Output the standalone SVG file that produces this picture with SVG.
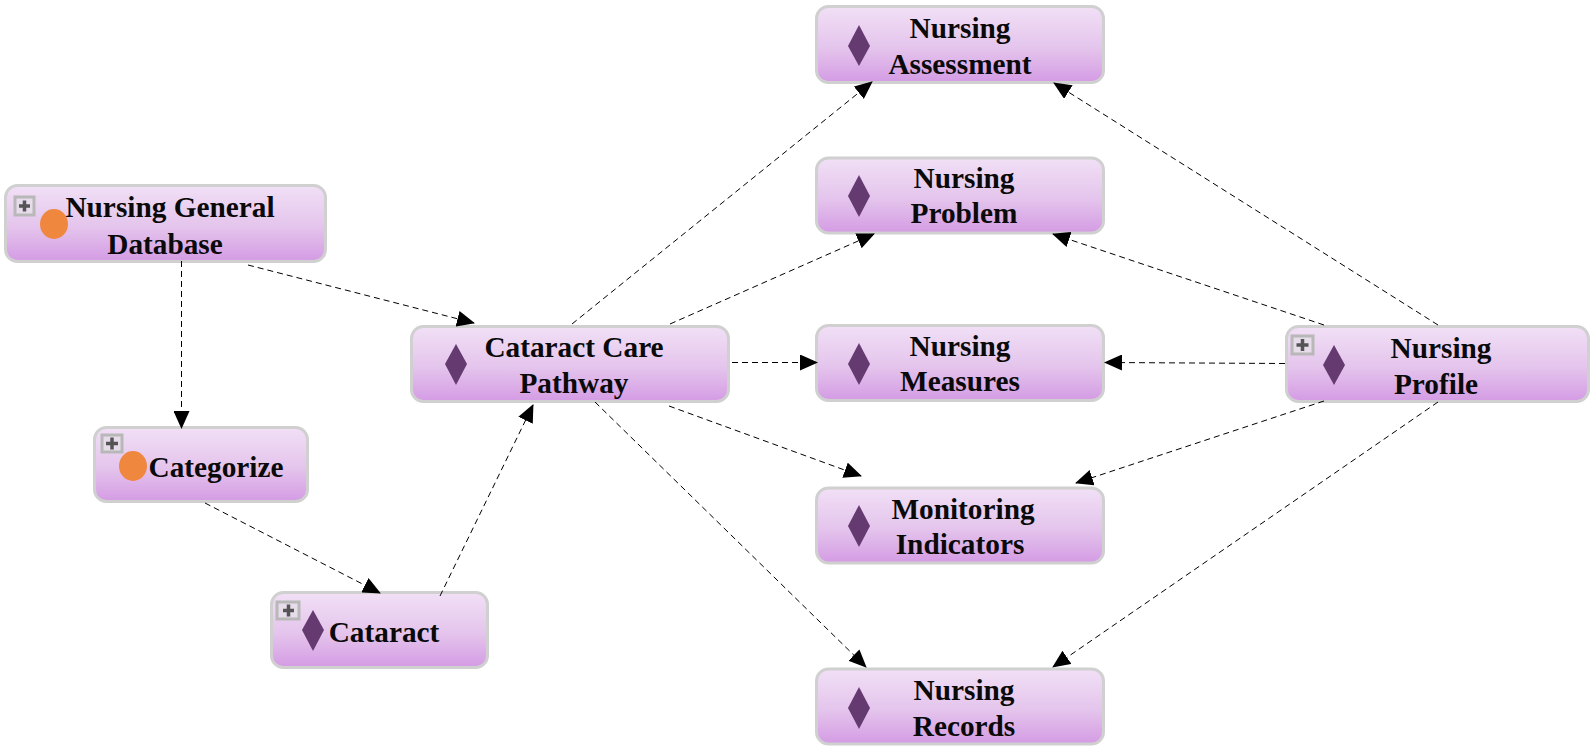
<svg xmlns="http://www.w3.org/2000/svg" width="1595" height="749" viewBox="0 0 1595 749">
<style>
.b{fill:url(#g);stroke:#d0d0d0;stroke-width:3}
.t{font-family:"Liberation Serif","Times New Roman",serif;font-weight:bold;font-size:29.3px;fill:#0a0a0a;text-anchor:middle}
.d{fill:#643a70}
.o{fill:#f0873f}
.p{fill:#e6dcea;stroke:#b8b8b8;stroke-width:3}
.m{stroke:#555;stroke-width:3.500;fill:none}
.c{fill:none;stroke:#000;stroke-width:1;stroke-dasharray:6 4;marker-end:url(#a)}
</style>
<defs>
<linearGradient id="g" x1="0" y1="0" x2="0" y2="1"><stop offset="0" stop-color="#f1e0f6"/><stop offset=".55" stop-color="#e4c4ec"/><stop offset="1" stop-color="#d49be4"/></linearGradient>
<marker id="a" markerUnits="userSpaceOnUse" markerWidth="18" markerHeight="16" refX="17" refY="8" orient="auto"><path d="M0 0L18 8L0 16z" fill="#000"/></marker>
</defs>
<g id="n1"><rect class="b" x="5.500" y="185.500" width="320" height="76" rx="12"/><rect class="p" x="15" y="197" width="19" height="18"/><path class="m" d="M19 206H30M24.500 200.500V211.500"/><ellipse class="o" cx="54" cy="224" rx="14" ry="15"/><text class="t" x="170" y="217">Nursing General</text><text class="t" x="165" y="254">Database</text></g>
<g id="n2"><rect class="b" x="94.500" y="427.500" width="213" height="74" rx="12"/><rect class="p" x="102" y="435" width="20" height="17"/><path class="m" d="M106 443.500H118M112 437.500V449.500"/><ellipse class="o" cx="133" cy="466" rx="14" ry="15"/><text class="t" x="216" y="477">Categorize</text></g>
<g id="n3"><rect class="b" x="271.500" y="592.500" width="216" height="75" rx="12"/><rect class="p" x="277" y="602" width="22" height="17"/><path class="m" d="M283 610.500H294M288.500 604.500V616.500"/><path class="d" d="M313 610L324 630L313 651L302 630z"/><text class="t" x="384" y="642">Cataract</text></g>
<g id="n4"><rect class="b" x="411.500" y="326.500" width="317" height="75" rx="12"/><path class="d" d="M456 344L467 364L456 385L445 364z"/><text class="t" x="574" y="357">Cataract Care</text><text class="t" x="574" y="393">Pathway</text></g>
<g id="n5"><rect class="b" x="816.500" y="6.500" width="287" height="76" rx="12"/><path class="d" d="M859 25L870 46L859 66L848 46z"/><text class="t" x="960" y="38">Nursing</text><text class="t" x="960" y="74">Assessment</text></g>
<g id="n6"><rect class="b" x="816.500" y="158" width="287" height="75" rx="12"/><path class="d" d="M859 175L870 196L859 217L848 196z"/><text class="t" x="964" y="188">Nursing</text><text class="t" x="964" y="223">Problem</text></g>
<g id="n7"><rect class="b" x="816.500" y="325.500" width="287" height="75" rx="12"/><path class="d" d="M859 343L870 364L859 385L848 364z"/><text class="t" x="960" y="356">Nursing</text><text class="t" x="960" y="391">Measures</text></g>
<g id="n8"><rect class="b" x="816.500" y="488" width="287" height="75" rx="12"/><path class="d" d="M859 505L870 526L859 547L848 526z"/><text class="t" x="963" y="519">Monitoring</text><text class="t" x="960" y="554">Indicators</text></g>
<g id="n9"><rect class="b" x="816.500" y="669" width="287" height="75" rx="12"/><path class="d" d="M859 687L870 708L859 729L848 708z"/><text class="t" x="964" y="700">Nursing</text><text class="t" x="964" y="736">Records</text></g>
<g id="n10"><rect class="b" x="1286.500" y="326.500" width="302" height="75" rx="12"/><rect class="p" x="1292" y="336" width="21" height="18"/><path class="m" d="M1296.500 345H1308.500M1302.500 339V351"/><path class="d" d="M1334 345L1345 365L1334 385L1323 365z"/><text class="t" x="1441" y="358">Nursing</text><text class="t" x="1436" y="394">Profile</text></g>
<g id="connectors">
<path class="c" d="M181.500 261V428"/>
<path class="c" d="M248 265L474 323"/>
<path class="c" d="M205 503L380 593"/>
<path class="c" d="M440 596L533 405"/>
<path class="c" d="M572 324L872 82"/>
<path class="c" d="M670 324L874 234"/>
<path class="c" d="M732 362.500H817"/>
<path class="c" d="M669 406L861 476"/>
<path class="c" d="M595 402L866 667"/>
<path class="c" d="M1438 325L1054 83"/>
<path class="c" d="M1324 325L1053 234"/>
<path class="c" d="M1285 363.500L1105 362.500"/>
<path class="c" d="M1324 401L1076 483"/>
<path class="c" d="M1438 402L1053 667"/>
</g>
</svg>
